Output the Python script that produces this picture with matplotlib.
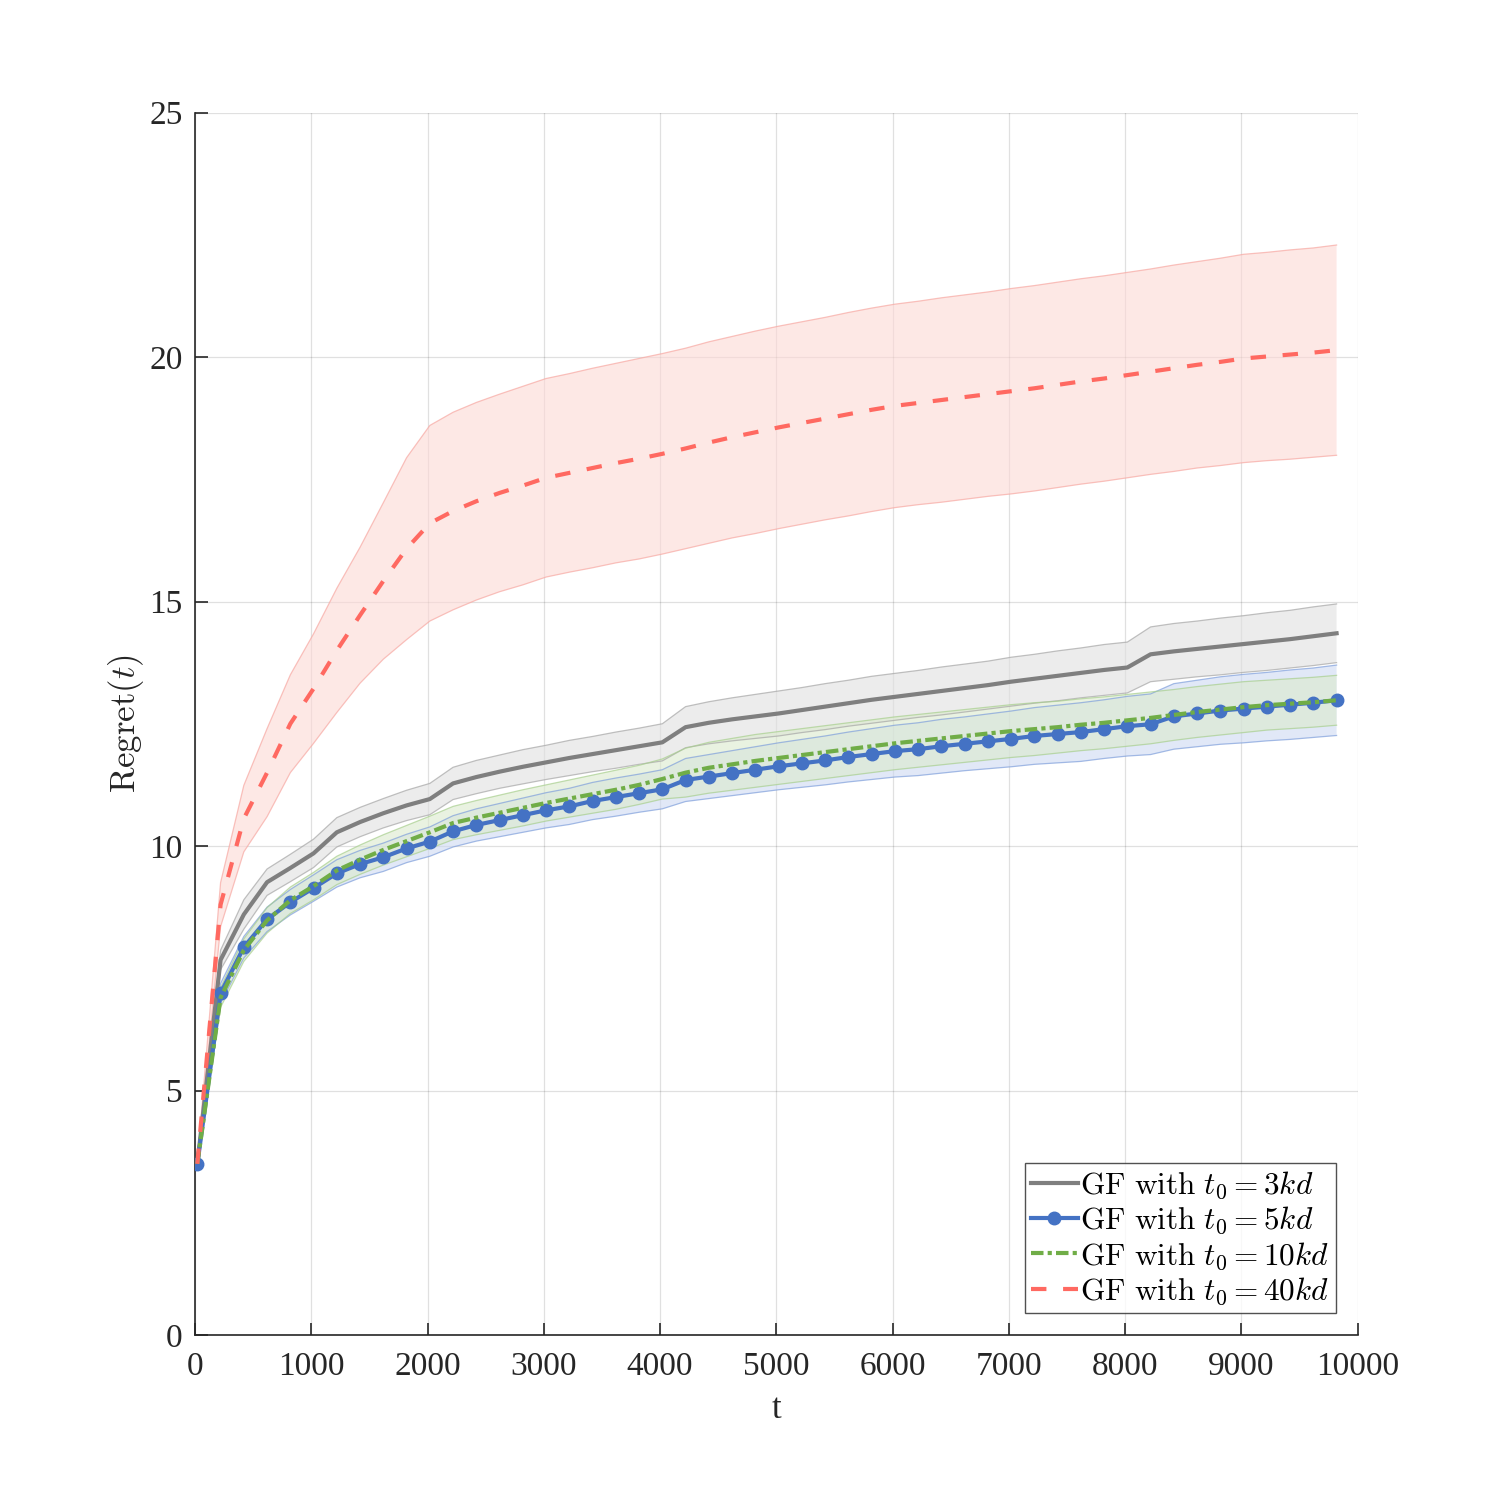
import numpy as np
import matplotlib
matplotlib.use("Agg")
import matplotlib.pyplot as plt

plt.rcParams['font.family'] = ['Liberation Serif', 'DejaVu Serif']
plt.rcParams['mathtext.fontset'] = 'cm'

# time steps (every 200 rounds)
t = np.arange(20, 10000, 200)

# GF with t0 = 3kd
mean_3kd = [3.5, 7.67, 8.6, 9.26, 9.55, 9.85, 10.28, 10.49, 10.67, 10.83,
            10.96, 11.28, 11.41, 11.52, 11.62, 11.71, 11.8, 11.88, 11.96, 12.04,
            12.12, 12.43, 12.52, 12.59, 12.65, 12.71, 12.78, 12.85, 12.92, 12.99,
            13.05, 13.11, 13.17, 13.23, 13.29, 13.36, 13.42, 13.48, 13.54, 13.6,
            13.65, 13.92, 13.98, 14.03, 14.08, 14.13, 14.18, 14.23, 14.29, 14.35]
std_3kd = [0.02, 0.2, 0.3, 0.27, 0.28, 0.29, 0.3, 0.3, 0.3, 0.31,
           0.32, 0.33, 0.34, 0.34, 0.35, 0.35, 0.36, 0.36, 0.37, 0.37,
           0.38, 0.42, 0.43, 0.44, 0.45, 0.46, 0.46, 0.47, 0.47, 0.48,
           0.48, 0.48, 0.49, 0.49, 0.49, 0.5, 0.5, 0.51, 0.51, 0.52,
           0.52, 0.56, 0.57, 0.57, 0.58, 0.58, 0.59, 0.59, 0.6, 0.6]

# GF with t0 = 5kd
mean_5kd = [3.5, 6.99, 7.93, 8.5, 8.85, 9.14, 9.44, 9.63, 9.77, 9.95,
            10.09, 10.3, 10.43, 10.53, 10.63, 10.73, 10.81, 10.92, 11.0, 11.08,
            11.16, 11.35, 11.42, 11.49, 11.56, 11.63, 11.69, 11.75, 11.82, 11.88,
            11.94, 11.98, 12.04, 12.09, 12.14, 12.19, 12.25, 12.29, 12.33, 12.39,
            12.45, 12.49, 12.65, 12.71, 12.77, 12.81, 12.85, 12.89, 12.93, 12.98]
std_5kd = [0.02, 0.2, 0.22, 0.25, 0.26, 0.27, 0.28, 0.28, 0.29, 0.29,
           0.3, 0.32, 0.33, 0.34, 0.35, 0.36, 0.37, 0.38, 0.39, 0.39,
           0.4, 0.44, 0.45, 0.46, 0.47, 0.48, 0.49, 0.5, 0.51, 0.52,
           0.53, 0.54, 0.55, 0.55, 0.56, 0.57, 0.58, 0.59, 0.6, 0.6,
           0.61, 0.62, 0.67, 0.68, 0.69, 0.7, 0.7, 0.71, 0.71, 0.72]

# GF with t0 = 10kd
mean_10kd = [3.5, 6.9, 7.87, 8.48, 8.89, 9.18, 9.5, 9.72, 9.92, 10.1,
             10.28, 10.47, 10.58, 10.68, 10.78, 10.88, 10.97, 11.06, 11.15, 11.25,
             11.37, 11.5, 11.6, 11.67, 11.74, 11.8, 11.86, 11.92, 11.98, 12.04,
             12.1, 12.15, 12.2, 12.25, 12.3, 12.35, 12.39, 12.43, 12.48, 12.52,
             12.57, 12.62, 12.68, 12.74, 12.79, 12.84, 12.88, 12.91, 12.94, 12.98]
std_10kd = [0.02, 0.2, 0.23, 0.26, 0.27, 0.28, 0.29, 0.3, 0.31, 0.32,
            0.33, 0.34, 0.35, 0.36, 0.37, 0.37, 0.38, 0.39, 0.4, 0.4,
            0.41, 0.5, 0.52, 0.53, 0.54, 0.54, 0.54, 0.54, 0.54, 0.54,
            0.54, 0.54, 0.54, 0.54, 0.54, 0.54, 0.54, 0.53, 0.53, 0.53,
            0.53, 0.53, 0.52, 0.52, 0.52, 0.52, 0.51, 0.51, 0.51, 0.51]

# GF with t0 = 40kd
mean_40kd = [3.5, 8.8, 10.56, 11.5, 12.5, 13.22, 14.0, 14.72, 15.42, 16.08,
             16.6, 16.85, 17.05, 17.22, 17.37, 17.53, 17.63, 17.73, 17.83, 17.92,
             18.02, 18.13, 18.25, 18.36, 18.46, 18.56, 18.65, 18.74, 18.83, 18.92,
             19.0, 19.06, 19.12, 19.18, 19.24, 19.3, 19.36, 19.43, 19.5, 19.56,
             19.63, 19.7, 19.77, 19.84, 19.9, 19.97, 20.01, 20.05, 20.09, 20.14]
std_40kd = [0.02, 0.45, 0.68, 0.9, 1.0, 1.12, 1.27, 1.39, 1.6, 1.86,
            2.0, 2.02, 2.02, 2.02, 2.03, 2.03, 2.03, 2.04, 2.04, 2.05,
            2.05, 2.05, 2.06, 2.06, 2.07, 2.07, 2.07, 2.07, 2.08, 2.08,
            2.08, 2.08, 2.09, 2.09, 2.09, 2.1, 2.1, 2.1, 2.1, 2.1,
            2.1, 2.1, 2.11, 2.11, 2.12, 2.13, 2.13, 2.14, 2.14, 2.15]

# mean, std, line colour, fill colour, band edge colour, linestyle, marker, label
series = [
    (mean_3kd, std_3kd, '#7f7f7f', '#e0e0e0', '#a6a6a6', '-', None, r'$\mathrm{GF\ with\ }t_0=3kd$'),
    (mean_5kd, std_5kd, '#4472c4', '#cdd9f2', '#7f9fdb', '-', 'o', r'$\mathrm{GF\ with\ }t_0=5kd$'),
    (mean_10kd, std_10kd, '#70ad47', '#dbeacd', '#a8cf8e', (0, (3, 1, 1, 1)), None, r'$\mathrm{GF\ with\ }t_0=10kd$'),
    (mean_40kd, std_40kd, '#ff6961', '#fdd9d5', '#f7a8a2', (0, (3.7, 4)), None, r'$\mathrm{GF\ with\ }t_0=40kd$'),
]

fig = plt.figure(figsize=(15, 15), dpi=100)
ax = fig.add_axes([0.13, 0.11, 0.775, 0.815])

# shaded bands first so lines end up on top
for m, s, lc, fc, ec, ls, mk, lab in series:
    m = np.array(m)
    s = np.array(s)
    ax.fill_between(t, m - s, m + s, facecolor=fc, alpha=0.6,
                    edgecolor='none', zorder=1)
    ax.plot(t, m + s, color=ec, lw=0.9, alpha=0.7, zorder=1.5)
    ax.plot(t, m - s, color=ec, lw=0.9, alpha=0.7, zorder=1.5)

lines = []
for m, s, lc, fc, ec, ls, mk, lab in series:
    ln, = ax.plot(t, m, color=lc, lw=3.0, linestyle=ls, marker=mk,
                  markersize=9, label=lab, zorder=3)
    lines.append(ln)

ax.set_xlim(0, 10000)
ax.set_ylim(0, 25)
ax.set_xticks(np.arange(0, 10001, 1000))
ax.set_yticks(np.arange(0, 26, 5))
ax.grid(True, color='#000000', alpha=0.12, linewidth=0.9)
ax.set_axisbelow(True)

for side in ['top', 'right']:
    ax.spines[side].set_visible(False)
for side in ['left', 'bottom']:
    ax.spines[side].set_color('#262626')
    ax.spines[side].set_linewidth(1.2)

ax.tick_params(direction='in', length=9, width=1.2, colors='#262626',
               labelsize=24)
ax.tick_params(axis='x', pad=12)
ax.tick_params(axis='y', pad=9)

ax.set_xlabel('t', fontsize=25, color='#262626', labelpad=8)
ax.set_ylabel(r'$\mathrm{Regret}(t)$', fontsize=25, color='#262626', labelpad=2)

leg = ax.legend(handles=lines, loc='lower right', fontsize=22.5,
                frameon=True, fancybox=False, edgecolor='#262626',
                handlelength=1.5, handletextpad=0.08, borderpad=0.2,
                labelspacing=0.12, borderaxespad=0.7)
leg.get_frame().set_linewidth(1.0)

fig.savefig('out.png', dpi=100)
